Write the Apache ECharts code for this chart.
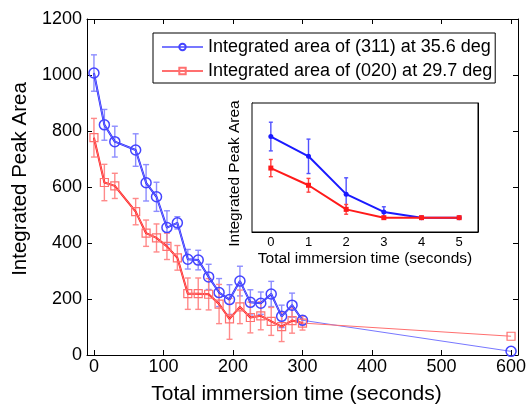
<!DOCTYPE html>
<html lang="en">
<head>
    <meta charset="UTF-8">
    <title>Integrated Peak Area</title>
    <script src="https://cdn.jsdelivr.net/npm/echarts@6/dist/echarts.min.js"></script>
</head>
<body style="margin:0">
<div id="main" style="width: 530px;height:410px;"></div>
<script>
    // data
    var timeMain = [0, 15, 30, 60, 75, 90, 105, 120, 135, 150, 165, 180, 195, 210, 225, 240, 255, 270, 285, 300, 600];
    var area311 = [1007, 822, 762, 732, 615, 565, 455, 472, 342, 339, 279, 223, 198, 264, 188, 185, 218, 138, 178, 124, 13];
    var err311 = [65, 55, 55, 58, 65, 52, 60, 22, 35, 35, 45, 50, 53, 53, 45, 40, 45, 40, 43, 16];
    var area020 = [776, 616, 604, 512, 435, 418, 388, 347, 219, 219, 217, 182, 129, 172, 134, 140, 120, 101, 123, 114, 67];
    var err020 = [69, 65, 45, 47, 47, 50, 47, 44, 56, 56, 56, 70, 73, 60, 55, 50, 50, 53, 45, 25];
    var xTicks = [0, 100, 200, 300, 400, 500, 600];

    var timeInset = [0, 1, 2, 3, 4, 5];
    var inset311 = [2.83, 2.14, 0.82, 0.2, 0, 0];
    var insetErr311 = [0.5, 0.6, 0.57, 0.18, 0, 0];
    var inset020 = [1.73, 1.13, 0.29, 0, 0, 0];
    var insetErr020 = [0.3, 0.24, 0.17, 0, 0, 0];
    var insetYTicks = [0, 1, 2, 3];

    var name311 = 'Integrated area of (311) at 35.6 deg';
    var name020 = 'Integrated area of (020) at 29.7 deg';
    var font = 'Liberation Sans, Arial, Helvetica, sans-serif';

    function pairs(xs, ys) {
        var out = [];
        for (var i = 0; i < xs.length && i < ys.length; i++) out.push([xs[i], ys[i]]);
        return out;
    }
    function triples(xs, ys, es) {
        var out = [];
        for (var i = 0; i < es.length; i++) out.push([xs[i], ys[i], es[i]]);
        return out;
    }
    function errBars(cap) {
        return function (params, api) {
            var x = api.value(0), y = api.value(1), e = api.value(2);
            if (!e) return null;
            var hi = api.coord([x, y + e]);
            var lo = api.coord([x, y - e]);
            var st = { stroke: api.visual('color'), lineWidth: 1.4 };
            return {
                type: 'group',
                children: [
                    { type: 'line', shape: { x1: hi[0], y1: hi[1], x2: lo[0], y2: lo[1] }, style: st },
                    { type: 'line', shape: { x1: hi[0] - cap, y1: hi[1], x2: hi[0] + cap, y2: hi[1] }, style: st },
                    { type: 'line', shape: { x1: lo[0] - cap, y1: lo[1], x2: lo[0] + cap, y2: lo[1] }, style: st }
                ]
            };
        };
    }
    function plain(v) { return String(v); }

    var myChart = echarts.init(document.getElementById('main'));

    var tickIn = { show: true, inside: true, length: 5, lineStyle: { color: '#000' } };
    var lineBlack = { show: true, onZero: false, lineStyle: { color: '#000', width: 1 } };
    var lbl = { color: '#000', fontSize: 18, fontFamily: font, formatter: plain };

    var option = {
        backgroundColor: '#fff',
        animation: false,
        legend: {
            left: 153, top: 33,
            orient: 'vertical',
            padding: [5, 3, 3, 8],
            itemGap: 6,
            itemWidth: 41,
            itemHeight: 8,
            borderColor: '#000', borderWidth: 1,
            backgroundColor: '#fff',
            textStyle: { color: '#000', fontSize: 18, fontFamily: font },
            data: [name311, name020]
        },
        grid: [
            { left: 87, right: 12, top: 19, bottom: 52, show: false },
            { left: 252, top: 103, width: 226, height: 129, show: true, backgroundColor: '#fff', borderColor: '#000', borderWidth: 1, z: 5 }
        ],
        xAxis: [
            {
                type: 'value', gridIndex: 0, min: -10, max: 610,
                axisLine: lineBlack,
                axisTick: Object.assign({ customValues: xTicks }, tickIn),
                axisLabel: Object.assign({ customValues: xTicks, margin: 3 }, lbl),
                splitLine: { show: false },
                name: 'Total immersion time (seconds)', nameLocation: 'middle', nameGap: 29,
                nameTextStyle: { color: '#000', fontSize: 21, fontFamily: font, padding: [0, 12, 0, 0] }
            },
            {
                type: 'value', gridIndex: 0, min: -10, max: 610, position: 'top',
                axisLine: lineBlack,
                axisTick: Object.assign({ customValues: xTicks }, tickIn),
                axisLabel: { show: false }, splitLine: { show: false }
            },
            {
                type: 'value', gridIndex: 1, min: -0.5, max: 5.5,
                axisLine: lineBlack,
                axisTick: { show: true, inside: true, length: 4, customValues: timeInset, lineStyle: { color: '#000' } },
                axisLabel: { customValues: timeInset, margin: 4, color: '#000', fontSize: 13, fontFamily: font },
                splitLine: { show: false },
                name: 'Total immersion time (seconds)', nameLocation: 'middle', nameGap: 19,
                nameTextStyle: { color: '#000', fontSize: 15.5, fontFamily: font }
            }
        ],
        yAxis: [
            {
                type: 'value', gridIndex: 0, min: 0, max: 1200, interval: 200,
                axisLine: lineBlack, axisTick: tickIn,
                axisLabel: Object.assign({ margin: 5 }, lbl),
                splitLine: { show: false },
                name: 'Integrated Peak Area', nameLocation: 'middle', nameGap: 55,
                nameTextStyle: { color: '#000', fontSize: 20.5, fontFamily: font, padding: [0, 0, 0, 16] }
            },
            {
                type: 'value', gridIndex: 0, min: 0, max: 1200, interval: 200, position: 'right',
                axisLine: lineBlack, axisTick: tickIn,
                axisLabel: { show: false }, splitLine: { show: false }
            },
            {
                type: 'value', gridIndex: 1, min: -0.5, max: 4,
                axisLine: lineBlack,
                axisTick: { show: true, inside: true, length: 4, customValues: insetYTicks, lineStyle: { color: '#000' } },
                axisLabel: { show: false }, splitLine: { show: false },
                name: 'Integrated Peak Area', nameLocation: 'middle', nameGap: 9,
                nameTextStyle: { color: '#000', fontSize: 15.5, fontFamily: font, padding: [0, 12, 0, 0] }
            },
            {
                type: 'value', gridIndex: 1, min: -0.5, max: 4, position: 'right',
                axisLine: lineBlack,
                axisTick: { show: true, inside: true, length: 4, customValues: insetYTicks, lineStyle: { color: '#000' } },
                axisLabel: { show: false }, splitLine: { show: false }
            }
        ],
        series: [
            // error bars, main plot
            { type: 'custom', xAxisIndex: 0, yAxisIndex: 0, renderItem: errBars(3), itemStyle: { color: '#8d8dff' }, data: triples(timeMain, area311, err311), z: 2 },
            { type: 'custom', xAxisIndex: 0, yAxisIndex: 0, renderItem: errBars(3), itemStyle: { color: '#ff8a8a' }, data: triples(timeMain, area020, err020), z: 2 },
            // thick lines 0-300 s
            { type: 'line', xAxisIndex: 0, yAxisIndex: 0, showSymbol: false, lineStyle: { color: '#2020ff', width: 2 }, itemStyle: { color: '#2020ff' }, data: pairs(timeMain, area311).slice(0, err311.length), z: 3 },
            { type: 'line', xAxisIndex: 0, yAxisIndex: 0, showSymbol: false, lineStyle: { color: '#ff1a1a', width: 2 }, itemStyle: { color: '#ff1a1a' }, data: pairs(timeMain, area020).slice(0, err020.length), z: 3 },
            // thin lines with markers, all points
            {
                name: name311, type: 'line', xAxisIndex: 0, yAxisIndex: 0,
                symbol: 'circle', symbolSize: 10,
                lineStyle: { color: '#7777ff', width: 1 },
                itemStyle: { color: 'rgba(0,0,0,0)', borderColor: '#4444ff', borderWidth: 1.5 },
                data: pairs(timeMain, area311), z: 4
            },
            {
                name: name020, type: 'line', xAxisIndex: 0, yAxisIndex: 0,
                symbol: 'rect', symbolSize: 8,
                lineStyle: { color: '#ff6f6f', width: 1 },
                itemStyle: { color: 'rgba(0,0,0,0)', borderColor: '#ff7070', borderWidth: 1.2 },
                data: pairs(timeMain, area020), z: 4
            },
            // inset
            { type: 'custom', xAxisIndex: 2, yAxisIndex: 2, renderItem: errBars(2), itemStyle: { color: '#5050ff' }, data: triples(timeInset, inset311, insetErr311), z: 6 },
            { type: 'custom', xAxisIndex: 2, yAxisIndex: 2, renderItem: errBars(2), itemStyle: { color: '#ff4040' }, data: triples(timeInset, inset020, insetErr020), z: 6 },
            {
                type: 'line', xAxisIndex: 2, yAxisIndex: 2, symbol: 'circle', symbolSize: 5,
                lineStyle: { color: '#1a1aff', width: 2 }, itemStyle: { color: '#1a1aff' },
                data: pairs(timeInset, inset311), z: 7
            },
            {
                type: 'line', xAxisIndex: 2, yAxisIndex: 2, symbol: 'rect', symbolSize: 5,
                lineStyle: { color: '#ff1a1a', width: 2 }, itemStyle: { color: '#ff1a1a' },
                data: pairs(timeInset, inset020), z: 7
            }
        ]
    };
    myChart.setOption(option);
</script>
</body>
</html>
